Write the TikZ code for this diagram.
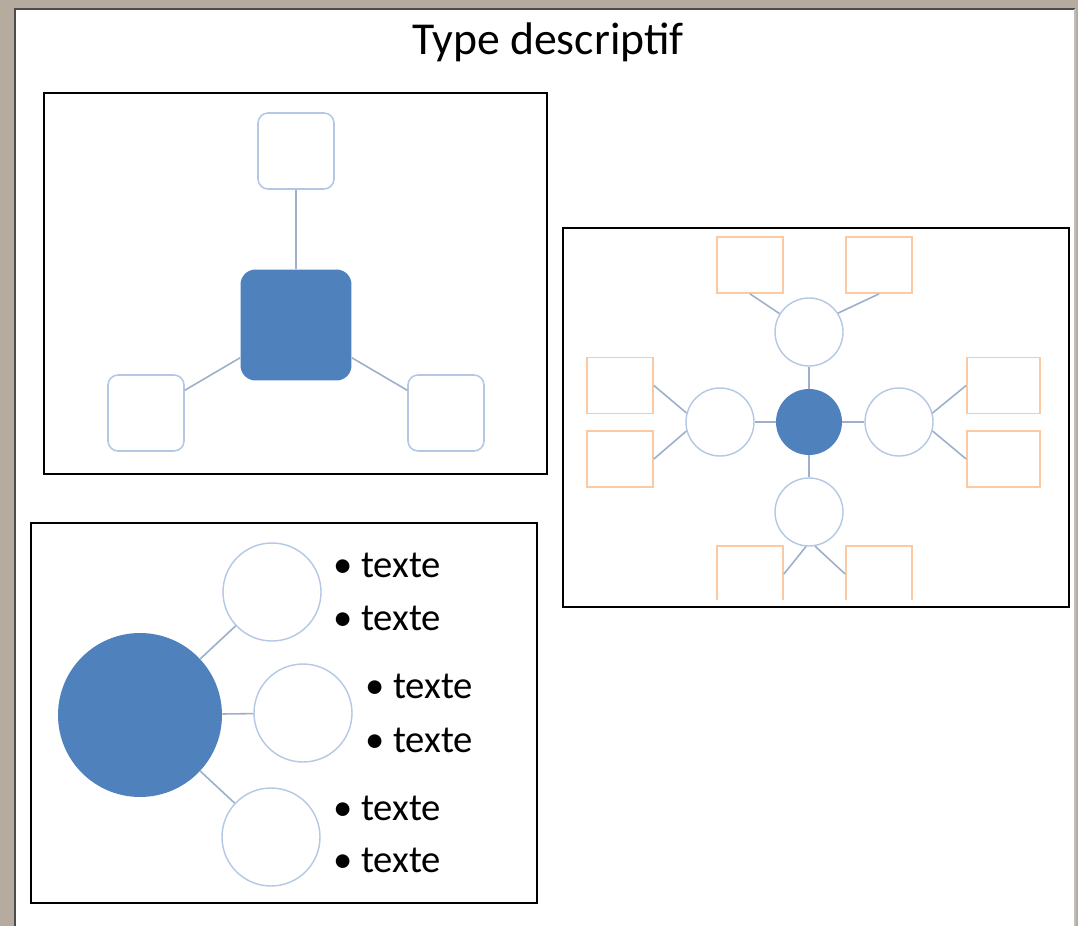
\documentclass[tikz,border=0pt]{standalone}
\usepackage{fontspec}
\setmainfont{Carlito}
\usepackage{tikz}
\usetikzlibrary{positioning}
\definecolor{frameGray}{HTML}{B5AC9F}
\definecolor{mainBlue}{HTML}{4F81BD}
\definecolor{ringBlue}{HTML}{B4C7E5}
\definecolor{wireGray}{HTML}{9DB0CB}
\definecolor{tagOrange}{HTML}{FBC9A2}

\begin{document}
\begin{tikzpicture}[x=0.02cm, y=-0.02cm, >=stealth,
    panel/.style={draw=black, line width=1.6pt},
    hubsq/.style={rectangle, rounded corners=0.3cm, fill=mainBlue, minimum size=2.22cm},
    leafsq/.style={rectangle, rounded corners=0.2cm, draw=ringBlue, line width=0.9pt, minimum size=1.52cm},
    ring/.style={circle, draw=ringBlue, line width=0.8pt, inner sep=0pt, minimum size=1.36cm},
    tagbox/.style={rectangle, draw=tagOrange, line width=1pt, inner sep=0pt, minimum width=1.32cm, minimum height=1.12cm},
    wire/.style={draw=wireGray, line width=0.9pt},
    bulletline/.style={anchor=base west, inner sep=0pt, font=\fontsize{22}{26}\selectfont}]
    \useasboundingbox (0,0) rectangle (1078,926);
    \fill[frameGray] (0,0) rectangle (1078,926);
    \fill[white] (15,9) rectangle (1075,926);
    \draw[black!70, line width=1pt] (15,926) -- (15,9) -- (1075,9);
    \draw[black!25, line width=1pt] (1075,9) -- (1075,926);

    \node (T) at (548,42) {\fontsize{26}{30}\selectfont Type descriptif};

    % trois carres
    \draw[panel] (44,93) rectangle (547,474);
    \node[hubsq] (A0) at (296,325) {};
    \node[leafsq] (A1) at (296,151) {};
    \node[leafsq] (A2) at (146,413) {};
    \node[leafsq] (A3) at (446,413) {};
    \draw[wire] (A0) -- (A1);
    \draw[wire] (A0) -- (A2);
    \draw[wire] (A0) -- (A3);

    % etoile
    \draw[panel] (563,228) rectangle (1069,607);
    \begin{scope}
        \clip (565,230) rectangle (1067,599);
        \node[circle, fill=mainBlue, inner sep=0pt, minimum size=1.32cm] (B0) at (809,422) {};
        \node[ring] (B1) at (809,332) {};
        \node[ring] (B2) at (720,422) {};
        \node[ring] (B3) at (899,422) {};
        \node[ring] (B4) at (809,512) {};
        \node[tagbox] (B11) at (750,265) {};
        \node[tagbox] (B12) at (879,265) {};
        \node[tagbox] (B21) at (620,385.5) {};
        \node[tagbox] (B22) at (620,459) {};
        \node[tagbox, minimum width=1.46cm] (B31) at (1003.5,385.5) {};
        \node[tagbox, minimum width=1.46cm] (B32) at (1003.5,459) {};
        \node[tagbox] (B41) at (750,574) {};
        \node[tagbox] (B42) at (879,574) {};
        \foreach \k in {1,...,4}
            \draw[wire] (B0) -- (B\k);
        \draw[wire] (B11.south) -- (B1.148);
        \draw[wire] (B12.south) -- (B1.33);
        \draw[wire] (B21.east) -- (B2.165);
        \draw[wire] (B22.east) -- (B2.195);
        \draw[wire] (B31.west) -- (B3.15);
        \draw[wire] (B32.west) -- (B3.-15);
        \draw[wire] (B4.-95) -- (B41.east);
        \draw[wire] (B4.-80) -- (B42.west);
    \end{scope}

    % cercles et textes
    \draw[panel] (31,523) rectangle (537,903);
    \node[circle, fill=mainBlue, inner sep=0pt, minimum size=3.28cm] (C0) at (140,715) {};
    \node[ring, minimum size=1.96cm] (C1) at (272,592) {};
    \node[ring, minimum size=1.96cm] (C2) at (303,713) {};
    \node[ring, minimum size=1.96cm] (C3) at (271,837) {};
    \draw[wire] (C0) -- (C1);
    \draw[wire] (C0) -- (C2);
    \draw[wire] (C0) -- (C3);
    \node[bulletline] (C11) at (333,577) {\textbullet\ texte};
    \node[bulletline] (C12) at (333,630) {\textbullet\ texte};
    \node[bulletline] (C21) at (365,698) {\textbullet\ texte};
    \node[bulletline] (C22) at (365,752) {\textbullet\ texte};
    \node[bulletline] (C31) at (333,820) {\textbullet\ texte};
    \node[bulletline] (C32) at (333,872) {\textbullet\ texte};
\end{tikzpicture}
\end{document}
